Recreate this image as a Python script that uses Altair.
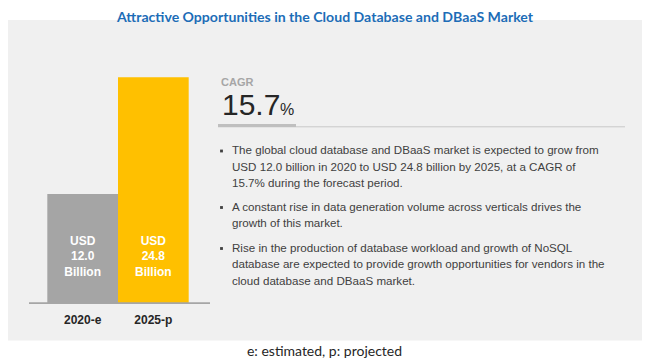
import altair as alt
import pandas as pd

# ---- data ----
years = ["2020-e", "2025-p"]
values = [12.0, 24.8]
bar_colors = ["#a5a5a5", "#ffc000"]
cagr_value = 15.7
title_text = "Attractive Opportunities in the Cloud Database and DBaaS Market"
footnote = "e: estimated, p: projected"
bullets = [
    ["The global cloud database and DBaaS market is expected to grow from",
     "USD 12.0 billion in 2020 to USD 24.8 billion by 2025, at a CAGR of",
     "15.7% during the forecast period."],
    ["A constant rise in data generation volume across verticals drives the",
     "growth of this market."],
    ["Rise in the production of database workload  and  growth of NoSQL",
     "database are expected to provide growth opportunities for vendors in the",
     "cloud database and DBaaS market."],
]

W, H = 634, 352
OX, OY = 8, 8  # page margin offset (reference px -> chart px)

df = pd.DataFrame({
    "year": years,
    "value": values,
    "label": [f"USD\n{v:.1f}\nBillion" for v in values],
})

TXT = "Liberation Sans"
xs = alt.Scale(domain=years, range=[47.3 - OX, 188.7 - OX], paddingInner=0, paddingOuter=0)
ys = alt.Scale(domain=[0, max(values)], range=[303.3 - OY, 77.3 - OY], nice=False, zero=True)
X = alt.X("year:N", scale=xs, axis=None)
Y = alt.Y("value:Q", scale=ys, axis=None)

one = pd.DataFrame({"a": [0]})

panel = alt.Chart(one).mark_rect(color="#f0f0f0").encode(
    x=alt.value(0), x2=alt.value(644 - OX), y=alt.value(20 - OY), y2=alt.value(340.5 - OY)
)

title = alt.Chart(one).mark_text(
    text=title_text, font="Lato", fontWeight="bold", fontSize=14.1, color="#1d6db7",
    align="center", baseline="top"
).encode(x=alt.value(325 - OX), y=alt.value(2.8))

bars = alt.Chart(df).mark_bar().encode(
    x=X, y=Y,
    color=alt.Color("year:N", scale=alt.Scale(domain=years, range=bar_colors), legend=None),
)

baseline = alt.Chart(df).mark_rule(color="#a6a6a6", strokeWidth=1.5).encode(
    x=alt.value(29 - OX), x2=alt.value(210 - OX), y=alt.datum(0)
)

bar_labels = alt.Chart(df).mark_text(
    font=TXT, fontWeight="bold", fontSize=12, color="white", lineBreak="\n",
    lineHeight=15.7, align="center", baseline="top"
).encode(x=X, y=alt.value(235.8 - OY), text="label:N")

year_labels = alt.Chart(df).mark_text(
    font=TXT, fontWeight="bold", fontSize=12, color="#262626", align="center", baseline="middle"
).encode(x=X, y=alt.value(320.2 - OY), text="year:N")

cagr_lbl = alt.Chart(one).mark_text(
    text="CAGR", font=TXT, fontWeight="bold", fontSize=11, color="#a6a6a6",
    align="left", baseline="alphabetic"
).encode(x=alt.value(221 - OX), y=alt.value(86 - OY))

cagr_num = alt.Chart(one).mark_text(
    text=f"{cagr_value}", font=TXT, fontSize=30, color="#262626",
    align="left", baseline="alphabetic"
).encode(x=alt.value(222 - OX), y=alt.value(115 - OY))

cagr_pct = alt.Chart(one).mark_text(
    text="%", font=TXT, fontSize=16, color="#262626", align="left", baseline="alphabetic"
).encode(x=alt.value(280 - OX), y=alt.value(115 - OY))

thick = alt.Chart(one).mark_rect(color="#bfbfbf").encode(
    x=alt.value(218 - OX), x2=alt.value(296 - OX), y=alt.value(124 - OY), y2=alt.value(127.3 - OY)
)
thin = alt.Chart(one).mark_rule(color="#c8c8c8", strokeWidth=1).encode(
    x=alt.value(296 - OX), x2=alt.value(625 - OX), y=alt.value(126.8 - OY)
)

layers = [panel, title, bars, baseline, bar_labels, year_labels,
          cagr_lbl, cagr_num, cagr_pct, thick, thin]

first_centers = [150.5, 207, 248]
LH = 16.6
for lines, c in zip(bullets, first_centers):
    layers.append(alt.Chart(one).mark_text(
        text="\n".join(lines), lineBreak="\n", lineHeight=LH, font=TXT, fontSize=11.6,
        color="#404040", align="left", baseline="top"
    ).encode(x=alt.value(232 - OX), y=alt.value(c - 5.3 - OY)))
    layers.append(alt.Chart(one).mark_square(color="#404040", size=8, opacity=1).encode(
        x=alt.value(221.5 - OX), y=alt.value(c + 0.5 - OY)))

foot = alt.Chart(one).mark_text(
    text=footnote, font="Lato", fontSize=14, color="#262626", align="center", baseline="alphabetic"
).encode(x=alt.value(324.5 - OX), y=alt.value(355.7 - OY))
layers.append(foot)

chart = alt.layer(*layers).properties(
    width=W, height=H, padding=0, autosize=alt.AutoSizeParams(type="none"),
    background="white"
).configure_view(stroke=None)

chart.save("out.html", embed_options={"renderer": "svg", "actions": False})
